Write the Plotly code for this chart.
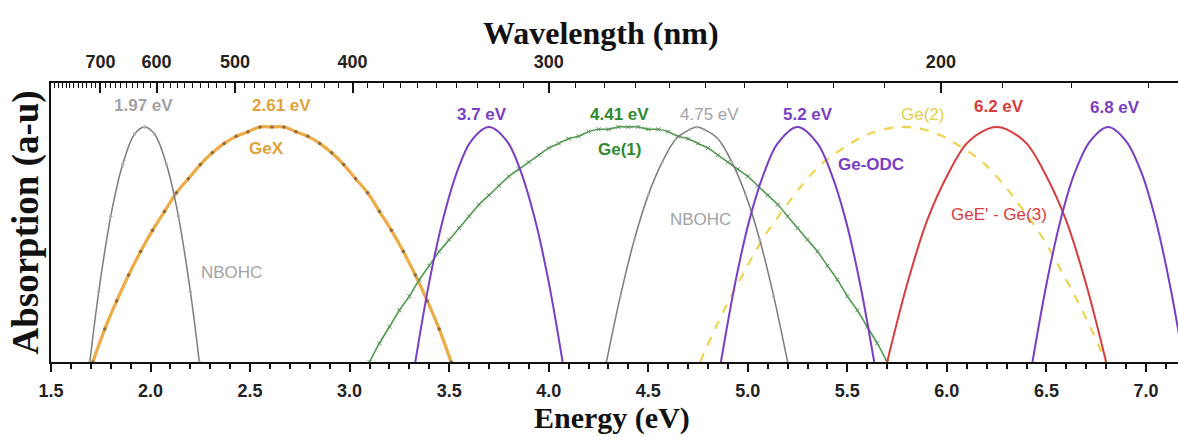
import plotly.graph_objects as go

# ---------------- data ----------------
nbohc1_x = [1.695, 1.74, 1.80, 1.86, 1.92, 1.97, 2.02, 2.08, 2.14, 2.20, 2.245]
nbohc1_y = [0, 0.30, 0.62, 0.84, 0.97, 1.00, 0.97, 0.84, 0.62, 0.30, 0]

gex_x = [1.71, 1.77, 1.83, 1.89, 1.95, 2.01, 2.07, 2.13, 2.19, 2.25, 2.31, 2.37, 2.43,
         2.49, 2.55, 2.61, 2.67, 2.73, 2.79, 2.85, 2.91, 2.97, 3.03, 3.09, 3.15, 3.21,
         3.27, 3.33, 3.39, 3.45, 3.51]
gex_y = [0.0, 0.14, 0.26, 0.37, 0.47, 0.56, 0.64, 0.72, 0.78, 0.84, 0.89, 0.93, 0.96,
         0.98, 1.00, 1.00, 1.00, 0.98, 0.96, 0.93, 0.89, 0.84, 0.78, 0.72, 0.64, 0.56,
         0.47, 0.37, 0.26, 0.14, 0.0]

odc37_x = [3.33, 3.40, 3.47, 3.54, 3.61, 3.70, 3.79, 3.86, 3.93, 4.00, 4.07]
odc37_y = [0, 0.34, 0.61, 0.81, 0.94, 1.00, 0.94, 0.81, 0.61, 0.34, 0]

ge1_x = [3.10, 3.15, 3.20, 3.25, 3.30, 3.35, 3.40, 3.45, 3.50, 3.55, 3.60, 3.65, 3.70,
         3.75, 3.80, 3.85, 3.90, 3.95, 4.00, 4.05, 4.10, 4.15, 4.20, 4.25, 4.30, 4.35,
         4.40, 4.45, 4.50, 4.55, 4.60, 4.65, 4.70, 4.75, 4.80, 4.85, 4.90, 4.95, 5.00,
         5.05, 5.10, 5.15, 5.20, 5.25, 5.30, 5.35, 5.40, 5.45, 5.50, 5.55, 5.60, 5.65, 5.70]
ge1_y = [0, 0.08, 0.15, 0.22, 0.28, 0.35, 0.41, 0.47, 0.52, 0.57, 0.62, 0.67, 0.71,
         0.75, 0.79, 0.82, 0.85, 0.88, 0.91, 0.93, 0.95, 0.96, 0.98, 0.99, 0.99, 1.00,
         1.00, 1.00, 0.99, 0.99, 0.98, 0.96, 0.95, 0.93, 0.91, 0.88, 0.85, 0.82, 0.79,
         0.75, 0.71, 0.67, 0.62, 0.57, 0.52, 0.47, 0.41, 0.35, 0.28, 0.22, 0.15, 0.08, 0]

nbohc2_x = [4.29, 4.36, 4.43, 4.50, 4.57, 4.64, 4.71, 4.745, 4.78, 4.85, 4.92, 4.99,
            5.06, 5.13, 5.20]
nbohc2_y = [0, 0.28, 0.52, 0.71, 0.85, 0.95, 0.99, 1.00, 0.99, 0.95, 0.85, 0.71,
            0.52, 0.28, 0]

odc52_x = [4.865, 4.94, 5.01, 5.08, 5.15, 5.25, 5.35, 5.42, 5.49, 5.56, 5.635]
odc52_y = [0, 0.35, 0.61, 0.80, 0.93, 1.00, 0.93, 0.80, 0.61, 0.35, 0]

ge2_x = [4.76, 4.88, 4.98, 5.08, 5.18, 5.28, 5.38, 5.48, 5.58, 5.68, 5.78, 5.88, 5.98,
         6.08, 6.18, 6.28, 6.38, 6.48, 6.58, 6.68, 6.80]
ge2_y = [0, 0.22, 0.38, 0.53, 0.65, 0.76, 0.85, 0.91, 0.96, 0.99, 1.00, 0.99, 0.96,
         0.91, 0.85, 0.76, 0.65, 0.53, 0.38, 0.22, 0]

gee_x = [5.70, 5.80, 5.90, 6.00, 6.10, 6.20, 6.25, 6.30, 6.40, 6.50, 6.60, 6.70, 6.80]
gee_y = [0, 0.33, 0.60, 0.79, 0.93, 0.99, 1.00, 0.99, 0.93, 0.79, 0.60, 0.33, 0]

odc68_x = [6.43, 6.50, 6.57, 6.64, 6.72, 6.81, 6.90, 6.98, 7.05, 7.12, 7.19]
odc68_y = [0, 0.33, 0.60, 0.80, 0.94, 1.00, 0.94, 0.80, 0.60, 0.33, 0]

energy_ticks = [1.5, 2.0, 2.5, 3.0, 3.5, 4.0, 4.5, 5.0, 5.5, 6.0, 6.5, 7.0]
wl_major = [700, 600, 500, 400, 300, 200]
wl_minor = [w for w in range(820, 160, -10) if w not in wl_major]

# top-axis scale as drawn in the reference (energy position of a wavelength tick)
WL_K, WL_B = 1182.0, 0.06
def wl_pos(w):
    return WL_K / w + WL_B

X_RANGE = [1.5, 7.161]
Y_RANGE = [0, 1.187]

GRAY = "#7c7c7c"
GRAY_T = "#a2a2a2"
ORANGE = "#eeaa44"
ORANGE_T = "#e0a238"
PURPLE = "#7a3ec4"
GREEN = "#4f9e4f"
GREEN_T = "#2f8a2f"
RED = "#d83c3c"
YELLOW = "#efd350"
YELLOW_T = "#e6cc48"

SANS = "Liberation Sans, Arial, sans-serif"
SERIF = "Liberation Serif, Times New Roman, serif"

fig = go.Figure()

fig.add_trace(go.Scatter(x=ge2_x, y=ge2_y, mode="lines", line=dict(color=YELLOW, width=2.2, dash="dash", shape="spline")))
fig.add_trace(go.Scatter(x=gex_x, y=gex_y, mode="lines+markers", line=dict(color=ORANGE, width=3.2, shape="spline"),
                         marker=dict(size=3.5, color="#8c6a3c")))
fig.add_trace(go.Scatter(x=nbohc1_x, y=nbohc1_y, mode="lines+markers", line=dict(color=GRAY, width=1.5, shape="spline"),
                         marker=dict(size=3.5, color="#b0b0b0")))
fig.add_trace(go.Scatter(x=ge1_x, y=ge1_y, mode="lines+markers", line=dict(color=GREEN, width=1.6, shape="spline"),
                         marker=dict(size=4, symbol="x-thin", line=dict(width=1, color="#5d8a5d"), color="#5d8a5d")))
fig.add_trace(go.Scatter(x=nbohc2_x, y=nbohc2_y, mode="lines+markers", line=dict(color=GRAY, width=1.5, shape="spline"),
                         marker=dict(size=3, color="#b0b0b0")))
fig.add_trace(go.Scatter(x=odc37_x, y=odc37_y, mode="lines", line=dict(color=PURPLE, width=2, shape="spline")))
fig.add_trace(go.Scatter(x=odc52_x, y=odc52_y, mode="lines", line=dict(color=PURPLE, width=2, shape="spline")))
fig.add_trace(go.Scatter(x=gee_x, y=gee_y, mode="lines", line=dict(color=RED, width=2, shape="spline")))
fig.add_trace(go.Scatter(x=odc68_x, y=odc68_y, mode="lines", line=dict(color=PURPLE, width=2, shape="spline")))

# invisible trace on the top axis so it renders
fig.add_trace(go.Scatter(x=[X_RANGE[0]], y=[0], xaxis="x2", yaxis="y", mode="markers",
                         marker=dict(size=0.1, opacity=0), hoverinfo="skip"))

labels = [
    ("1.97 eV", 1.965, 1.091, GRAY_T, "bold"),
    ("2.61 eV", 2.658, 1.091, ORANGE_T, "bold"),
    ("3.7 eV", 3.663, 1.053, PURPLE, "bold"),
    ("4.41 eV", 4.357, 1.053, GREEN_T, "bold"),
    ("4.75 eV", 4.809, 1.053, GRAY_T, "normal"),
    ("5.2 eV", 5.300, 1.053, PURPLE, "bold"),
    ("Ge(2)", 5.879, 1.051, YELLOW_T, "normal"),
    ("6.2 eV", 6.264, 1.089, RED, "bold"),
    ("6.8 eV", 6.847, 1.081, PURPLE, "bold"),
    ("GeX", 2.583, 0.909, ORANGE_T, "bold"),
    ("Ge(1)", 4.357, 0.906, GREEN_T, "bold"),
    ("NBOHC", 2.407, 0.381, GRAY_T, "normal"),
    ("NBOHC", 4.764, 0.606, GRAY_T, "normal"),
    ("Ge-ODC", 5.618, 0.840, PURPLE, "bold"),
    ("GeE' - Ge(3)", 6.264, 0.628, RED, "normal"),
]
for text, x, y, c, w in labels:
    fig.add_annotation(x=x, y=y, xref="x", yref="y", text=text, showarrow=False,
                       font=dict(family=SANS, size=17, color=c, weight=w),
                       xanchor="center", yanchor="middle")

fig.add_annotation(x=0.488, y=1.178, xref="paper", yref="paper", text="Wavelength (nm)",
                   showarrow=False, font=dict(family=SERIF, size=32, color="#111", weight="bold"),
                   xanchor="center", yanchor="middle")
fig.add_annotation(x=0.498, y=-0.2688, xref="paper", yref="paper", text="Energy (eV)",
                   showarrow=False, font=dict(family=SERIF, size=30, color="#111", weight="bold"),
                   xanchor="center", yanchor="bottom")
fig.add_annotation(x=0, y=0.5, xref="paper", yref="paper", xshift=-26, text="Absorption (a-u)",
                   textangle=-90, showarrow=False,
                   font=dict(family=SERIF, size=37, color="#111", weight="bold"),
                   xanchor="center", yanchor="middle")

fig.update_layout(
    width=1178, height=437, autosize=False,
    margin=dict(l=51, r=0, t=83, b=75),
    plot_bgcolor="white", paper_bgcolor="white",
    showlegend=False,
    xaxis=dict(range=X_RANGE, tickmode="array", tickvals=energy_ticks,
               ticktext=[f"{v:.1f}" for v in energy_ticks],
               ticks="outside", ticklen=8, tickwidth=2, tickcolor="#111",
               minor=dict(dtick=0.1, tick0=1.5, ticks="outside", ticklen=5, tickwidth=1.5, tickcolor="#111"),
               showline=True, linewidth=2, linecolor="#111", showgrid=False, zeroline=False,
               ticklabelstandoff=3,
               tickfont=dict(family=SANS, size=18, color="#222", weight="bold")),
    xaxis2=dict(range=X_RANGE, overlaying="x", side="top", anchor="y",
                tickmode="array", tickvals=[wl_pos(w) for w in wl_major],
                ticktext=[str(w) for w in wl_major],
                ticks="inside", ticklen=10, tickwidth=1.5, tickcolor="#111",
                minor=dict(tickmode="array", tickvals=[wl_pos(w) for w in wl_minor],
                           ticks="inside", ticklen=5, tickwidth=1.2, tickcolor="#111"),
                showline=True, linewidth=2, linecolor="#111", showgrid=False, zeroline=False,
                ticklabelstandoff=6,
                tickfont=dict(family=SANS, size=18, color="#222", weight="bold")),
    yaxis=dict(range=Y_RANGE, showticklabels=False, ticks="", showline=True,
               linewidth=2, linecolor="#111", showgrid=False, zeroline=False),
)

fig.write_html("out.html", config={"displayModeBar": False},
               post_script="document.body.style.margin='0';document.body.style.overflow='hidden';")
